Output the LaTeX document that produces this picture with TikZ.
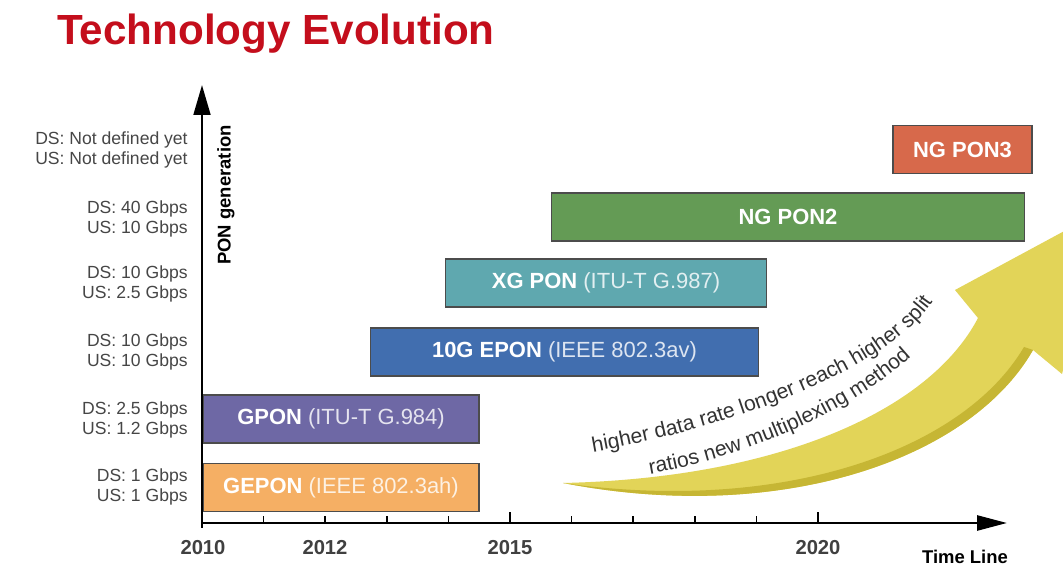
\documentclass[tikz,border=0pt]{standalone}
\usepackage{fontspec}
\setmainfont{Liberation Sans}
\usetikzlibrary{arrows.meta,decorations.text}

\definecolor{titlered}{RGB}{196,14,28}
\definecolor{labgray}{RGB}{70,70,70}
\definecolor{cgepon}{RGB}{245,175,100}
\definecolor{cgpon}{RGB}{110,104,165}
\definecolor{cepon}{RGB}{65,110,175}
\definecolor{cxgpon}{RGB}{95,168,175}
\definecolor{cngtwo}{RGB}{100,155,85}
\definecolor{cngthree}{RGB}{215,105,75}
\definecolor{arrowyellow}{RGB}{226,212,88}
\definecolor{arrowdark}{RGB}{198,182,52}

\tikzset{
  axisline/.style={line width=1.5pt, black},
  tickmark/.style={line width=0.9pt, black},
  ratelabel/.style={anchor=east, align=right, inner sep=0pt, text=labgray,
    font=\fontsize{10}{11.6}\selectfont},
  yearlabel/.style={inner sep=0pt, text=black!75, font=\bfseries\fontsize{11.5}{13}\selectfont},
  barbox/.style={draw=black!70, line width=0.6pt, minimum height=0.96cm, inner sep=0pt,
    text=white, font=\fontsize{12.5}{14}\selectfont},
}

\begin{document}
\begin{tikzpicture}[x=0.02cm,y=-0.02cm]
\useasboundingbox (0,0) rectangle (1063,567);
\fill[white] (0,0) rectangle (1063,567);

% title
\node[anchor=base west, inner sep=0pt, text=titlered,
  font=\bfseries\fontsize{24}{28}\selectfont] (title) at (57,45) {Technology Evolution};

% curved arrow
\begin{scope}
\clip (0,0) rectangle (1063,567);
\fill[arrowyellow] (563,483) .. controls (780,478) and (930,410) .. (978,318)
  -- (955,290) -- (1107,208) -- (1062,374) -- (1033,350)
  .. controls (970,460) and (780,525) .. (563,483) -- cycle;
\fill[arrowdark] (1033,350) .. controls (970,460) and (780,525) .. (563,483)
  .. controls (780,514) and (962,452) .. (1024,347) -- cycle;
\end{scope}
\path[decorate, decoration={text along path, text color=black!80,
  text={|\fontsize{12}{13}\selectfont|higher data rate longer reach higher split}}]
  (593,452) .. controls (741,426) and (893,366) .. (935,298) -- (960,258);
\path[decorate, decoration={text along path, text color=black!80,
  text={|\fontsize{12}{13}\selectfont|ratios new multiplexing method}}]
  (650,474) .. controls (766,453) and (870,398) .. (918,350) -- (945,318);

% axes
\coordinate (yorig) at (202,528);
\coordinate (ytop) at (202,85);
\coordinate (xorig) at (202,523);
\coordinate (xend) at (1007,523);
\draw[axisline, -{Triangle[length=17pt,width=9.5pt]}] (yorig) -- (ytop);
\draw[axisline, -{Triangle[length=17pt,width=8.5pt]}] (xorig) -- (xend);
\foreach \i in {1,2,3,4,6,7,8,9}
  \draw[tickmark] (202+61.6*\i,523) -- (202+61.6*\i,516);
\foreach \i in {5,10}
  \draw[tickmark] (202+61.6*\i,523) -- (202+61.6*\i,512);

\node[yearlabel] (y2010) at (203,548) {2010};
\node[yearlabel] (y2012) at (325,548) {2012};
\node[yearlabel] (y2015) at (510,548) {2015};
\node[yearlabel] (y2020) at (818,548) {2020};
\node[inner sep=0pt, font=\bfseries\fontsize{10.5}{12}\selectfont] (timeline) at (965,557) {Time Line};
\node[rotate=90, inner sep=0pt, font=\bfseries\fontsize{10.5}{12}\selectfont] (pongen) at (226,195) {PON generation};

% rate labels
\node[ratelabel] (r6) at (188,150) {DS: Not defined yet\\US: Not defined yet};
\node[ratelabel] (r5) at (188,219) {DS: 40 Gbps\\US: 10 Gbps};
\node[ratelabel] (r4) at (188,284) {DS: 10 Gbps\\US: 2.5 Gbps};
\node[ratelabel] (r3) at (188,352) {DS: 10 Gbps\\US: 10 Gbps};
\node[ratelabel] (r2) at (188,420) {DS: 2.5 Gbps\\US: 1.2 Gbps};
\node[ratelabel] (r1) at (188,487) {DS: 1 Gbps\\US: 1 Gbps};

% bars
\node[barbox, fill=cgepon, minimum width=5.52cm] (gepon) at (341,487.5)
  {\textbf{GEPON} \textcolor{white!82!cgepon}{(IEEE 802.3ah)}};
\node[barbox, fill=cgpon, minimum width=5.52cm] (gpon) at (341,419)
  {\textbf{GPON} \textcolor{white!82!cgpon}{(ITU-T G.984)}};
\node[barbox, fill=cepon, minimum width=7.78cm] (epon) at (564.5,352)
  {\textbf{10G EPON} \textcolor{white!82!cepon}{(IEEE 802.3av)}};
\node[barbox, fill=cxgpon, minimum width=6.44cm] (xgpon) at (606,283)
  {\textbf{XG PON} \textcolor{white!82!cxgpon}{(ITU-T G.987)}};
\node[barbox, fill=cngtwo, minimum width=9.48cm] (ngtwo) at (788,217)
  {\textbf{NG PON2}};
\node[barbox, fill=cngthree, minimum width=2.78cm] (ngthree) at (962.5,149.5)
  {\textbf{NG PON3}};
\end{tikzpicture}
\end{document}
